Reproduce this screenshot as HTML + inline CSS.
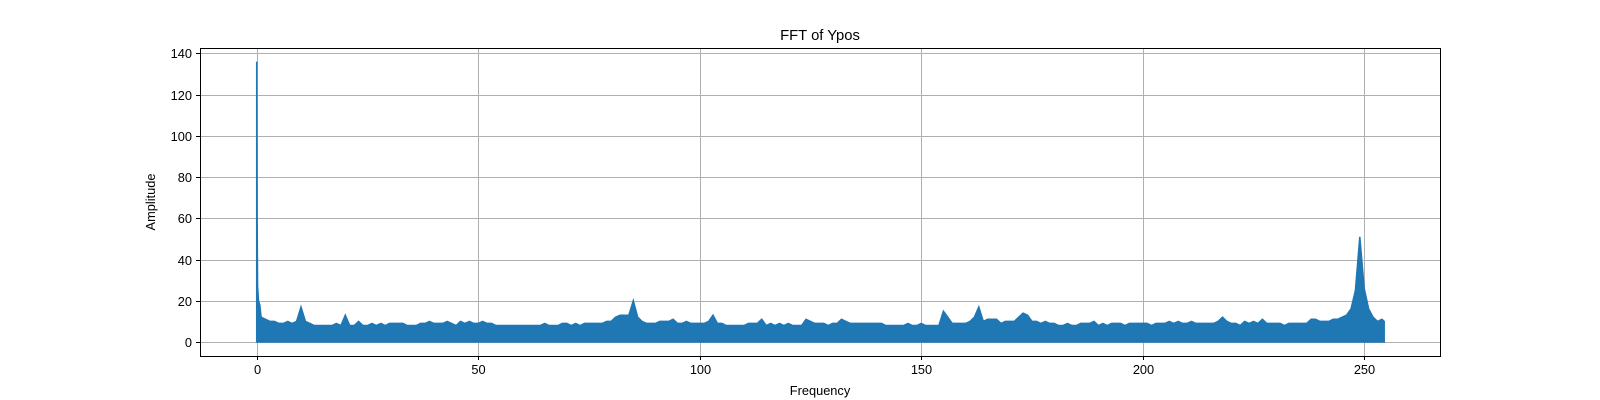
<!DOCTYPE html>
<html style="overflow:hidden"><head><meta charset="utf-8"><style>
html,body{margin:0;padding:0;background:#fff;overflow:hidden;width:1600px;height:400px;}
svg{display:block;font-family:"Liberation Sans","DejaVu Sans",sans-serif;}
</style></head><body>
<svg id="chart" width="1600" height="400">
<rect width="1600" height="400" fill="#fff"/>
<g id="grid"></g>
<g id="series"></g>
<rect x="200.5" y="48.5" width="1240" height="308" fill="none" stroke="#000" stroke-width="1"/>
<g id="ticks"></g>
<text x="820" y="40" font-size="14.8" text-anchor="middle">FFT of Ypos</text>
<text x="820" y="395" font-size="12.8" text-anchor="middle">Frequency</text>
<text x="155" y="202" font-size="12.8" text-anchor="middle" transform="rotate(-90 155 202)">Amplitude</text>
</svg>
<script>
const xTicks=[0,50,100,150,200,250];
const yTicks=[0,20,40,60,80,100,120,140];
const lowFreqs=[0,0.1,0.2,0.4,0.7];
const lowAmps=[136,61,27,20,18];
const binAmps=[
12,11,10,10,9,9,10,9,10,17,
10,9,8,8,8,8,8,9,8,13,
8,8,10,8,8,9,8,9,8,9,
9,9,9,8,8,8,9,9,10,9,
9,9,10,9,8,10,9,10,9,9,
10,9,9,8,8,8,8,8,8,8,
8,8,8,8,9,8,8,8,9,9,
8,9,8,9,9,9,9,9,10,10,
12,13,13,13,20,12,10,9,9,9,
10,10,10,11,9,9,10,9,9,9,
9,10,13,9,9,8,8,8,8,8,
9,9,9,11,8,9,8,9,8,9,
8,8,8,11,10,9,9,9,8,9,
9,11,10,9,9,9,9,9,9,9,
9,8,8,8,8,8,9,8,8,9,
8,8,8,8,15,12,9,9,9,9,
10,12,17,10,11,11,11,9,10,10,
10,12,14,13,10,10,9,10,9,9,
8,8,9,8,8,9,9,9,10,8,
9,8,9,9,9,8,9,9,9,9,
9,8,9,9,9,10,9,10,9,9,
10,9,9,9,9,9,10,12,10,9,
9,8,10,9,10,9,11,9,9,9,
9,8,9,9,9,9,9,11,11,10,
10,10,11,11,12,13,16,25,51,26,
16,12,10,11,10];
const xMin=-12.8,xMax=267.1,yMin=-6.8,yMax=142.6;
const L=200,R=1440,T=48,B=356;
const xs=v=>L+(v-xMin)/(xMax-xMin)*(R-L);
const ys=v=>B-(v-yMin)/(yMax-yMin)*(B-T);
const NS="http://www.w3.org/2000/svg";
const grid=document.getElementById('grid'),ticks=document.getElementById('ticks'),series=document.getElementById('series');
function mk(tag,attrs,parent){const e=document.createElementNS(NS,tag);for(const k in attrs)e.setAttribute(k,attrs[k]);parent.appendChild(e);return e;}
xTicks.forEach(t=>{const x=Math.round(xs(t))+0.5;
 const g=mk('line',{x1:x,x2:x,y1:T,y2:B,stroke:'#b0b0b0','stroke-width':1},grid);
 
 
 const tk=mk('line',{x1:x,x2:x,y1:B,y2:B+4,stroke:'#000'},ticks);
 
 
 const tx=mk('text',{x:x,y:B+18,'font-size':12.8,'text-anchor':'middle'},ticks);tx.textContent=t;
 
 
});
yTicks.forEach(t=>{const y=Math.round(ys(t))+0.5;
 const g=mk('line',{x1:L,x2:R,y1:y,y2:y,stroke:'#b0b0b0','stroke-width':1},grid);
 
 
 const tk=mk('line',{x1:L-4,x2:L,y1:y,y2:y,stroke:'#000'},ticks);
 
 
 const tx=mk('text',{x:L-8,y:y+4.5,'font-size':12.8,'text-anchor':'end'},ticks);tx.textContent=t;
 
 
});
const freqs=lowFreqs.slice(),amps=lowAmps.slice();
binAmps.forEach((a,i)=>{freqs.push(Math.min(i+1,254.5));amps.push(a);});
let d='M'+xs(0)+','+ys(0);
freqs.forEach((f,i)=>{d+=' L'+xs(f).toFixed(1)+','+ys(amps[i]).toFixed(1);});
d+=' L'+xs(freqs[freqs.length-1]).toFixed(1)+','+ys(0)+' Z';
const p=mk('path',{d:d,fill:'#1f77b4',stroke:'#1f77b4','stroke-width':1.5,'stroke-linejoin':'miter'},series);


</script>
</body></html>
